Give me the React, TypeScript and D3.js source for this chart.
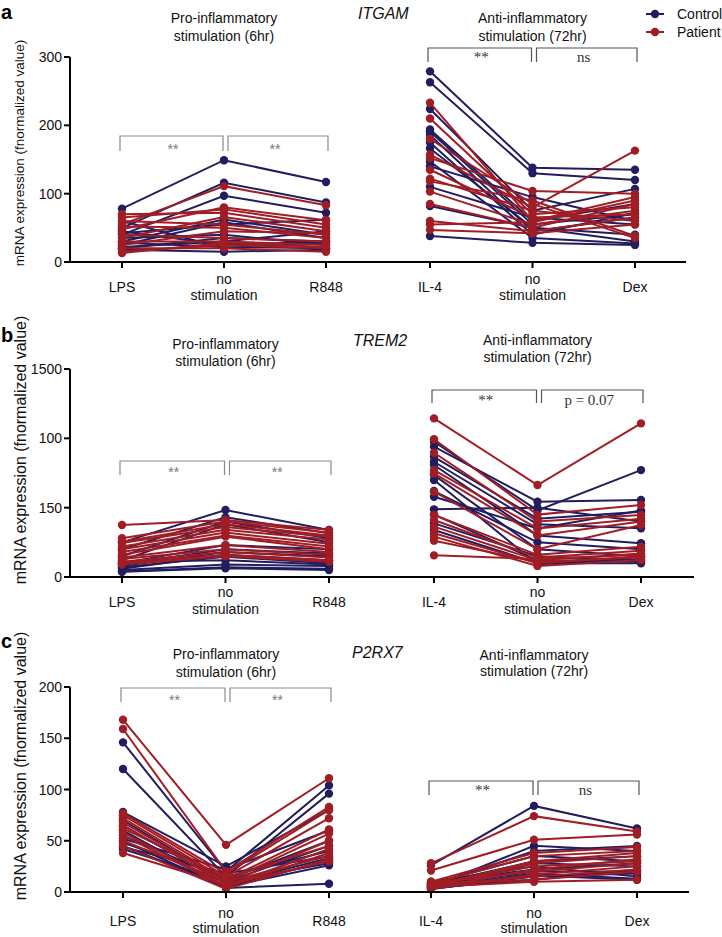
import * as d3 from 'd3';

const NAVY = '#211d5e';
const RED = '#a11d25';
const SANS = '"Liberation Sans", Arial, Helvetica, sans-serif';
const SERIF = '"Liberation Serif", "Times New Roman", serif';

const proCategories = ['LPS', 'no stimulation', 'R848'];
const antiCategories = ['IL-4', 'no stimulation', 'Dex'];
const groupTitles = {
  pro: ['Pro-inflammatory', 'stimulation (6hr)'],
  anti: ['Anti-inflammatory', 'stimulation (72hr)'],
};
const yTitle = 'mRNA expression (fnormalized value)';

// ITGAM — rows are [stim, no stimulation, stim]
const itgamTicks = [0, 100, 200, 300];
const itgamProControl = [
  [78, 149, 117], [50, 116, 87], [40, 97, 72], [30, 62, 40], [25, 58, 35],
  [42, 55, 62], [20, 35, 30], [35, 40, 25], [28, 22, 20], [18, 15, 18],
  [45, 25, 30], [22, 30, 45], [60, 20, 28],
];
const itgamProPatient = [
  [55, 111, 83], [48, 80, 61], [65, 77, 55], [70, 72, 50], [35, 66, 45],
  [60, 55, 40], [52, 50, 35], [25, 45, 42], [40, 35, 30], [30, 30, 25],
  [15, 25, 20], [20, 20, 15], [13, 28, 22],
];
const itgamAntiControl = [
  [279, 138, 135], [263, 130, 120], [224, 75, 107], [194, 60, 85], [191, 55, 70],
  [186, 45, 65], [175, 40, 72], [166, 50, 30], [147, 35, 27], [110, 65, 55],
  [82, 50, 40], [38, 28, 25], [140, 95, 60],
];
const itgamAntiPatient = [
  [233, 60, 95], [210, 70, 80], [180, 85, 35], [157, 80, 163], [152, 104, 100],
  [135, 65, 70], [122, 75, 60], [118, 90, 38], [103, 55, 75], [85, 50, 85],
  [60, 45, 65], [55, 58, 90], [47, 42, 55],
];

// TREM2
const trem2Ticks = [0, 500, 1000, 1500];
const trem2TickLabels = ['0', '150', '100', '1500'];
const trem2ProControl = [
  [250, 483, 339], [200, 430, 315], [150, 400, 280], [120, 380, 250], [100, 230, 200],
  [90, 200, 170], [80, 180, 150], [60, 160, 120], [70, 146, 100], [50, 90, 80],
  [40, 70, 60], [38, 63, 50], [110, 120, 90],
];
const trem2ProPatient = [
  [375, 411, 339], [279, 400, 320], [255, 380, 300], [245, 360, 290], [220, 340, 270],
  [200, 320, 240], [180, 300, 220], [160, 291, 200], [140, 230, 180], [130, 200, 160],
  [110, 180, 140], [100, 160, 120], [90, 150, 110],
];
const trem2AntiControl = [
  [976, 480, 771], [940, 543, 555], [867, 420, 471], [831, 380, 351], [808, 300, 243],
  [735, 200, 150], [579, 350, 480], [488, 500, 400], [387, 150, 120], [339, 100, 99],
  [620, 250, 200], [700, 90, 130], [450, 120, 110],
];
const trem2AntiPatient = [
  [1144, 663, 1108], [993, 450, 519], [896, 400, 447], [771, 350, 420], [747, 300, 400],
  [615, 200, 375], [447, 160, 218], [411, 140, 190], [363, 120, 170], [315, 100, 150],
  [291, 80, 123], [262, 110, 140], [156, 130, 160],
];

// P2RX7
const p2rx7Ticks = [0, 50, 100, 150, 200];
const p2rx7ProControl = [
  [146, 20, 104], [120, 15, 96], [78, 25, 80], [70, 10, 45], [65, 8, 33],
  [60, 5, 26], [55, 12, 50], [50, 4, 8], [44, 18, 35], [45, 6, 30],
  [48, 15, 40], [52, 22, 60], [42, 10, 28],
];
const p2rx7ProPatient = [
  [168, 46, 111], [159, 20, 83], [77, 18, 80], [75, 15, 72], [72, 12, 61],
  [68, 10, 57], [65, 8, 50], [62, 14, 45], [58, 6, 42], [55, 5, 38],
  [50, 10, 35], [45, 3, 32], [38, 7, 30],
];
const p2rx7AntiControl = [
  [26, 84, 62], [5, 45, 40], [8, 35, 30], [4, 28, 25], [6, 20, 20],
  [10, 25, 15], [3, 15, 18], [7, 30, 35], [5, 18, 13], [9, 22, 28],
  [4, 12, 22], [6, 40, 45], [3, 16, 12],
];
const p2rx7AntiPatient = [
  [28, 74, 59], [21, 51, 56], [10, 38, 44], [8, 35, 40], [6, 30, 38],
  [5, 28, 35], [7, 25, 30], [4, 22, 32], [9, 20, 28], [3, 17, 25],
  [6, 15, 22], [8, 12, 20], [5, 10, 12],
];

const panels = [
  {
    letter: 'a', letterY: 19, gene: 'ITGAM', geneX: 358, geneY: 19,
    ticks: itgamTicks, tickLabels: itgamTicks.map(String), yMax: 300,
    y0: 262, yTop: 57, xEnd: 686, yTitleY: 153, yTitleX: 24, yTitleSize: 13.5,
    catOff: [30, 22, 38],
    pro: {
      xs: [122, 326], control: itgamProControl, patient: itgamProPatient,
      titleY: [23, 41], bracket: [136, 151], labels: ['**', '**'], textY: 154,
    },
    anti: {
      xs: [430, 635], control: itgamAntiControl, patient: itgamAntiPatient,
      titleY: [23, 41], bracket: [48, 62], labels: ['**', 'ns'], textY: 62,
    },
  },
  {
    letter: 'b', letterY: 342, gene: 'TREM2', geneX: 353, geneY: 346,
    ticks: trem2Ticks, tickLabels: trem2TickLabels, yMax: 1500,
    y0: 577, yTop: 369, xEnd: 694, yTitleY: 450, yTitleX: 26, yTitleSize: 16,
    catOff: [30, 20, 37],
    pro: {
      xs: [122, 329], control: trem2ProControl, patient: trem2ProPatient,
      titleY: [349, 366], bracket: [461, 475], labels: ['**', '**'], textY: 477,
    },
    anti: {
      xs: [434, 641], control: trem2AntiControl, patient: trem2AntiPatient,
      titleY: [345, 362], bracket: [390, 403], labels: ['**', 'p = 0.07'], textY: 405,
    },
  },
  {
    letter: 'c', letterY: 648, gene: 'P2RX7', geneX: 352, geneY: 658,
    ticks: p2rx7Ticks, tickLabels: p2rx7Ticks.map(String), yMax: 200,
    y0: 892, yTop: 687, xEnd: 689, yTitleY: 766, yTitleX: 26, yTitleSize: 16,
    catOff: [34, 26, 41],
    pro: {
      xs: [123, 329], control: p2rx7ProControl, patient: p2rx7ProPatient,
      titleY: [659, 677], bracket: [688, 702], labels: ['**', '**'], textY: 705,
    },
    anti: {
      xs: [431, 637], control: p2rx7AntiControl, patient: p2rx7AntiPatient,
      titleY: [660, 676], bracket: [781, 795], labels: ['**', 'ns'], textY: 795,
    },
  },
];

function Group({ g, kind, categories, y, panel }) {
  const x = d3.scalePoint().domain(categories).range(g.xs);
  const line = d3.line().x((_, i) => x(categories[i])).y(d => y(d));
  const sans = kind === 'pro';
  const bColor = sans ? '#8a8a8a' : '#555';
  const cx = categories.map(c => x(c));
  const mid = (cx[0] + cx[1]) / 2;
  const mid2 = (cx[1] + cx[2]) / 2;
  const brackets = [
    [cx[0] - 2, cx[1] - 1, g.labels[0]],
    [cx[1] + 4, cx[2] + 2, g.labels[1]],
  ];
  const series = [
    { rows: g.control, color: NAVY },
    { rows: g.patient, color: RED },
  ];
  const titleX = (cx[0] + cx[2]) / 2;
  return (
    <g>
      {groupTitles[kind].map((t, i) => (
        <text key={t} x={titleX} y={g.titleY[i]} textAnchor="middle" fontSize={14} fontFamily={SANS} fill="#111">{t}</text>
      ))}
      {brackets.map(([x1, x2, lab], i) => (
        <g key={i}>
          <path d={`M${x1},${g.bracket[1]}V${g.bracket[0]}H${x2}V${g.bracket[1]}`} fill="none" stroke={bColor} strokeWidth={1.2} />
          <text x={i === 0 ? mid : mid2} y={g.textY} textAnchor="middle"
            fontSize={sans ? 14 : 15} fontFamily={sans ? SANS : SERIF} fill={sans ? '#777' : '#333'}>{lab}</text>
        </g>
      ))}
      {series.map(s => (
        <g key={s.color}>
          {s.rows.map((r, i) => (
            <path key={'l' + i} d={line(r)} fill="none" stroke={s.color} strokeWidth={2} />
          ))}
          {s.rows.map((r, i) => r.map((v, j) => (
            <circle key={'c' + i + '-' + j} cx={cx[j]} cy={y(v)} r={4.2} fill={s.color} />
          )))}
        </g>
      ))}
      {categories.map((c, i) => (
        <g key={c}>
          <line x1={cx[i]} x2={cx[i]} y1={panel.y0} y2={panel.y0 + 6} stroke="#000" strokeWidth={2} />
          {c.split(' ').length === 1 ? (
            <text x={cx[i]} y={panel.y0 + panel.catOff[0]} textAnchor="middle" fontSize={14} fontFamily={SANS} fill="#111">{c}</text>
          ) : (
            c.split(' ').map((w, k) => (
              <text key={w} x={cx[i]} y={panel.y0 + panel.catOff[1 + k]} textAnchor="middle" fontSize={14} fontFamily={SANS} fill="#111">{w}</text>
            ))
          )}
        </g>
      ))}
    </g>
  );
}

function Panel({ p }) {
  const y = d3.scaleLinear().domain([0, p.yMax]).range([p.y0, p.yTop]);
  const axisX = 70;
  return (
    <g>
      <text x={1} y={p.letterY} fontSize={20} fontWeight="bold" fontFamily={SANS} fill="#000">{p.letter}</text>
      <text x={p.geneX} y={p.geneY} fontSize={16} fontStyle="italic" fontFamily={SANS} fill="#111">{p.gene}</text>
      <text transform={`translate(${p.yTitleX},${p.yTitleY}) rotate(-90)`} textAnchor="middle"
        fontSize={p.yTitleSize} fontFamily={SANS} fill="#111">{yTitle}</text>
      <Group g={p.pro} kind="pro" categories={proCategories} y={y} panel={p} />
      <Group g={p.anti} kind="anti" categories={antiCategories} y={y} panel={p} />
      <line x1={axisX} x2={axisX} y1={p.yTop} y2={p.y0} stroke="#000" strokeWidth={2} />
      <line x1={axisX - 1} x2={p.xEnd} y1={p.y0} y2={p.y0} stroke="#000" strokeWidth={2} />
      {p.ticks.map((t, i) => (
        <g key={t}>
          <line x1={axisX - 6} x2={axisX} y1={y(t)} y2={y(t)} stroke="#000" strokeWidth={2} />
          <text x={axisX - 8} y={y(t) + 5} textAnchor="end" fontSize={14} fontFamily={SANS} fill="#111">{p.tickLabels[i]}</text>
        </g>
      ))}
    </g>
  );
}

function Legend() {
  const items = [
    { label: 'Control', color: NAVY },
    { label: 'Patient', color: RED },
  ];
  return (
    <g>
      {items.map((it, i) => (
        <g key={it.label} transform={`translate(0,${14 + i * 18})`}>
          <line x1={646} x2={664} y1={0} y2={0} stroke={it.color} strokeWidth={2} />
          <circle cx={655} cy={0} r={4.2} fill={it.color} />
          <text x={677} y={5} fontSize={14} fontFamily={SANS} fill="#111">{it.label}</text>
        </g>
      ))}
    </g>
  );
}

export default function App() {
  return (
    <svg width={722} height={937} style={{ position: 'absolute', left: 0, top: 0, background: '#fff' }}>
      <rect width={722} height={937} fill="#fff" />
      {panels.map(p => <Panel key={p.letter} p={p} />)}
      <Legend />
    </svg>
  );
}
